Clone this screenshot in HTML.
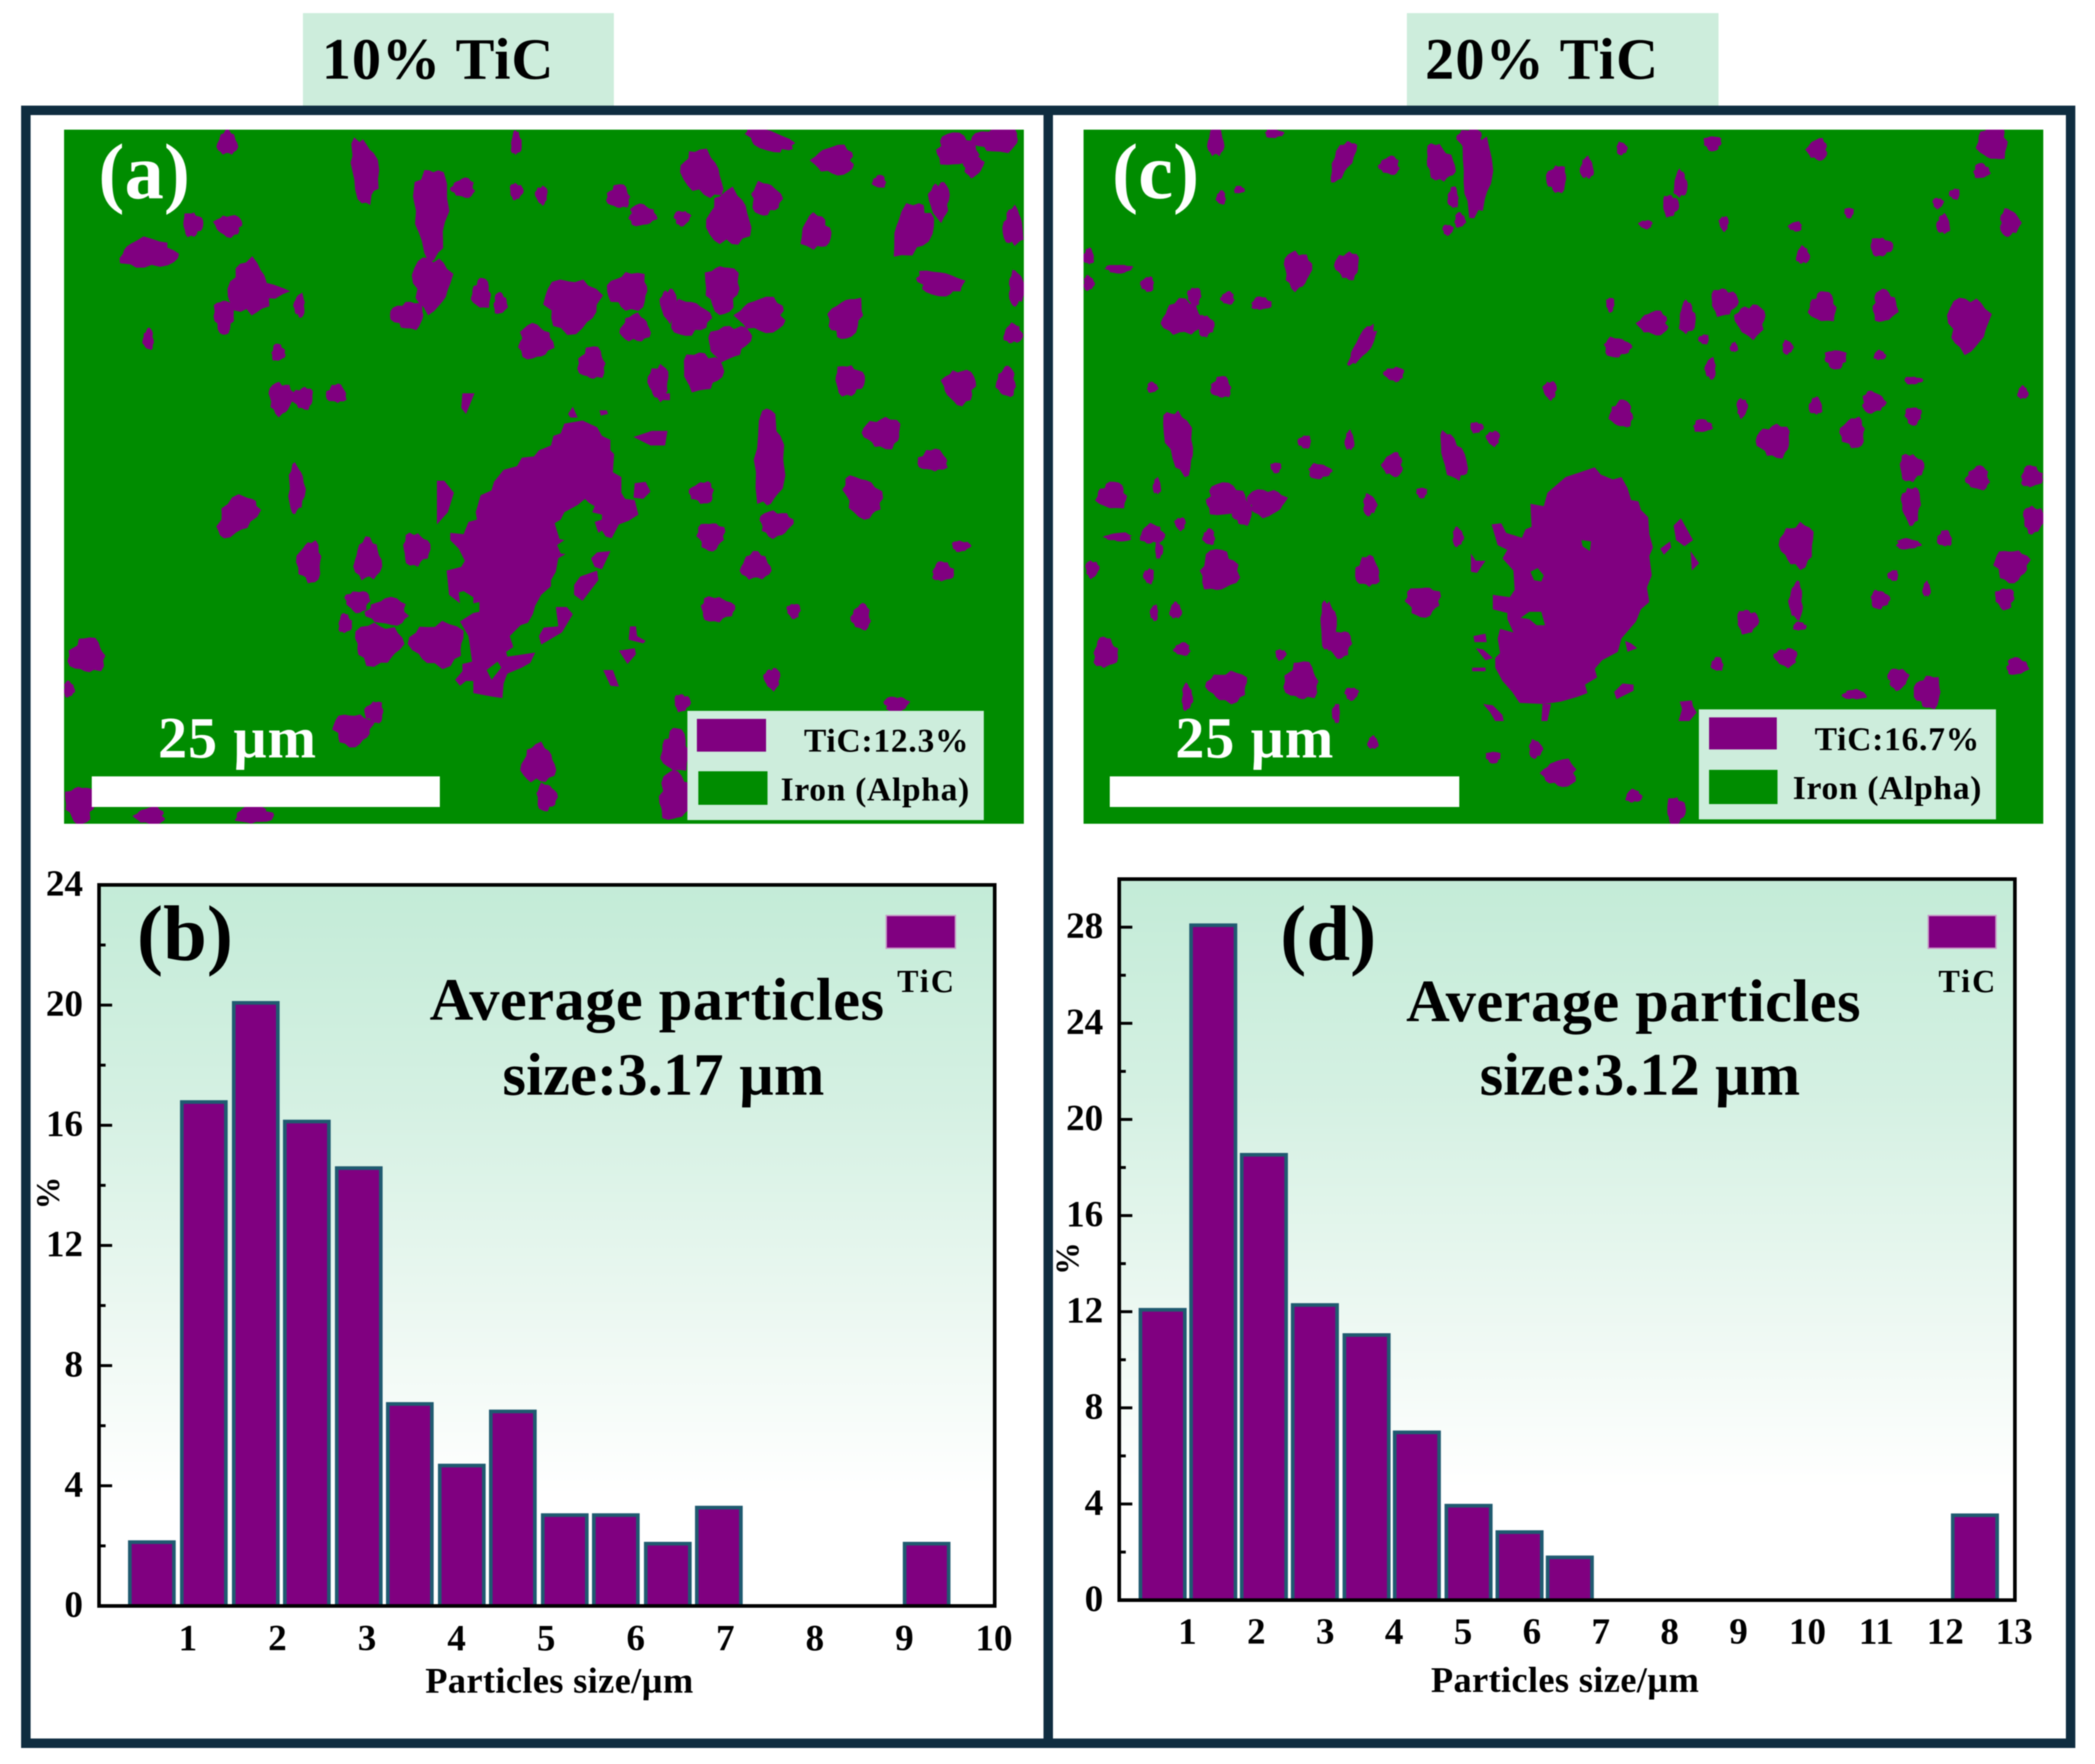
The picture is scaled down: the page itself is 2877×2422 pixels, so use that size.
<!DOCTYPE html>
<html lang="en">
<head>
<meta charset="utf-8">
<title>TiC particle maps and size distributions</title>
<style>
html,body{margin:0;padding:0;background:#fff;width:2877px;height:2422px;overflow:hidden}
svg{display:block;filter:blur(0.7px)}
text{font-family:"Liberation Serif",serif;font-weight:bold;fill:#000}
</style>
</head>
<body>
<svg id="fig" xmlns="http://www.w3.org/2000/svg" width="2877" height="2422" viewBox="0 0 2877 2422">
  <defs>
    <linearGradient id="plotBg" x1="0" y1="0" x2="0" y2="1">
      <stop offset="0" stop-color="#c3ebd7"/>
      <stop offset="0.3" stop-color="#d4f0e2"/>
      <stop offset="0.65" stop-color="#f0f9f4"/>
      <stop offset="0.85" stop-color="#ffffff"/>
      <stop offset="1" stop-color="#ffffff"/>
    </linearGradient>
    <clipPath id="clipA"><rect x="88" y="178" width="1318" height="953"/></clipPath>
    <clipPath id="clipC"><rect x="1488" y="178" width="1318" height="953"/></clipPath>
  </defs>
  <rect x="416" y="18" width="427" height="127" fill="#cdeddc"/>
  <rect x="1932" y="18" width="428" height="127" fill="#cdeddc"/>
  <text x="442" y="108" font-size="80" textLength="318">10% TiC</text>
  <text x="1957" y="108" font-size="80" textLength="320">20% TiC</text>

  <g clip-path="url(#clipA)">
    <rect x="88" y="178" width="1318" height="953" fill="#008c00"/>
    <g id="blobsA" transform="scale(0.9183,0.7337)" fill="#800080"></g>
    <g id="tracedA" transform="translate(600,540) scale(0.33333)" fill="#800080"></g>
  </g>
  <g clip-path="url(#clipC)">
    <rect x="1488" y="178" width="1318" height="953" fill="#008c00"/>
    <g id="blobsC" transform="translate(1440,0) scale(0.9183,0.7337)" fill="#800080"></g>
    <g id="tracedC" transform="translate(2020,620) scale(0.33333)" fill="#800080"></g>
  </g>

  <rect x="35.5" y="151.5" width="2808" height="2242" fill="none" stroke="#0f2d40" stroke-width="13"/>
  <rect x="1433" y="145" width="13" height="2255" fill="#0f2d40"/>

  <text x="135" y="272" font-size="108" style="fill:#fff">(a)</text>
  <text x="1527" y="272" font-size="108" style="fill:#fff">(c)</text>
  <text x="217" y="1040" font-size="80" style="fill:#fff" textLength="217">25 µm</text>
  <rect x="126" y="1066" width="478" height="42" fill="#fff"/>
  <text x="1614" y="1040" font-size="80" style="fill:#fff" textLength="217">25 µm</text>
  <rect x="1524" y="1066" width="480" height="42" fill="#fff"/>

  <g>
    <rect x="944" y="976" width="407" height="150" fill="#cdeddc"/>
    <rect x="957" y="987" width="95" height="45" fill="#800080"/>
    <rect x="959" y="1059" width="95" height="46" fill="#008c00"/>
    <text x="1104" y="1032" font-size="46" textLength="226">TiC:12.3%</text>
    <text x="1072" y="1099" font-size="46" textLength="259">Iron (Alpha)</text>
  </g>
  <g>
    <rect x="2333" y="974" width="408" height="151" fill="#cdeddc"/>
    <rect x="2347" y="985" width="93" height="44" fill="#800080"/>
    <rect x="2347" y="1057" width="94" height="47" fill="#008c00"/>
    <text x="2492" y="1030" font-size="46" textLength="226">TiC:16.7%</text>
    <text x="2462" y="1097" font-size="46" textLength="259">Iron (Alpha)</text>
  </g>

  <g id="chartB"></g>
  <g id="chartD"></g>

  <text x="188" y="1318" font-size="108">(b)</text>
  <text x="1758" y="1318" font-size="108">(d)</text>
  <text x="590" y="1400" font-size="83" textLength="624">Average particles</text>
  <text x="690" y="1503" font-size="83" textLength="442">size:3.17 µm</text>
  <text x="1931" y="1402" font-size="83" textLength="624">Average particles</text>
  <text x="2032" y="1503" font-size="83" textLength="440">size:3.12 µm</text>
</svg>
<script>
// Chart data: panel (b)
const bBinCenters = [0.59,1.17,1.75,2.32,2.90,3.47,4.05,4.62,5.20,5.77,6.35,6.92,9.24];
const bValues = [2.1,16.75,20.05,16.1,14.55,6.7,4.65,6.45,3.0,3.0,2.05,3.25,2.05];
const bXTicks = [1,2,3,4,5,6,7,8,9,10];
const bYTicks = [0,4,8,12,16,20,24];
const bYMinor = [2,6,10,14,18,22];
// Chart data: panel (d)
const dBinCenters = [0.63,1.365,2.10,2.84,3.59,4.32,5.07,5.81,6.54,12.42];
const dValues = [12.05,28.05,18.5,12.25,11.0,6.95,3.9,2.8,1.75,3.5];
const dXTicks = [1,2,3,4,5,6,7,8,9,10,11,12,13];
const dYTicks = [0,4,8,12,16,20,24,28];
const dYMinor = [2,6,10,14,18,22,26];

const NS = 'http://www.w3.org/2000/svg';
function mk(parent, tag, attrs, txt) {
  const e = document.createElementNS(NS, tag);
  for (const k in attrs) e.setAttribute(k, attrs[k]);
  if (txt !== undefined) e.textContent = txt;
  parent.appendChild(e);
  return e;
}

function drawChart(opts) {
  const g = document.getElementById(opts.id);
  const x = v => opts.left + (v - opts.xMin) / (opts.xMax - opts.xMin) * (opts.right - opts.left);
  const y = v => opts.bottom - (v - opts.yMin) / (opts.yMax - opts.yMin) * (opts.bottom - opts.top);

  const bg = mk(g, 'rect', {x: opts.left, y: opts.top, width: opts.right - opts.left, height: opts.bottom - opts.top, fill: 'url(#plotBg)'});
  
  

  opts.centers.forEach((c, i) => {
    const v = opts.values[i];
    const bar = mk(g, 'rect', {
      x: x(c - opts.barWidth / 2) + 0.5, y: y(v) - 1,
      width: x(c + opts.barWidth / 2) - x(c - opts.barWidth / 2) - 1,
      height: y(0) - y(v) + 1,
      fill: '#800080', stroke: '#1f5a70', 'stroke-width': 5
    });
    
    
  });

  const frame = mk(g, 'rect', {x: opts.left, y: opts.top, width: opts.right - opts.left, height: opts.bottom - opts.top, fill: 'none', stroke: '#000', 'stroke-width': 5});
  
  

  opts.yTicks.forEach(t => {
    const line = mk(g, 'line', {x1: opts.left, x2: opts.left + 18, y1: y(t), y2: y(t), stroke: '#000', 'stroke-width': 4});
    
    
    const lab = mk(g, 'text', {x: opts.left - 22, y: y(t) + 15, 'font-size': 51, 'text-anchor': 'end'}, String(t));
    
    
  });
  opts.yMinor.forEach(t => {
    const line = mk(g, 'line', {x1: opts.left, x2: opts.left + 9, y1: y(t), y2: y(t), stroke: '#000', 'stroke-width': 4});
    
    
  });
  opts.xTicks.forEach(t => {
    const lab = mk(g, 'text', {x: x(t) - 1, y: opts.xLabelY, 'font-size': 51, 'text-anchor': 'middle'}, String(t));
    
    
  });

  const xt = mk(g, 'text', {x: opts.xTitleX, y: opts.xTitleY, 'font-size': 50, textLength: 368}, 'Particles size/µm');
  
  

  const yt = mk(g, 'text', {x: opts.yTitleX, y: opts.yTitleY, 'font-size': 45, 'text-anchor': 'middle', transform: 'rotate(-90 ' + opts.yTitleX + ' ' + opts.yTitleY + ')'}, '%');
  
  

  const sw = mk(g, 'rect', {x: opts.swatchX, y: 1257, width: opts.swatchW, height: 45, fill: '#800080', stroke: '#c79ac7', 'stroke-width': 2});
  
  
  const st = mk(g, 'text', {x: opts.swatchTextX, y: 1362, 'font-size': 44, textLength: 78}, 'TiC');
  
  
}

drawChart({id:'chartB', left:136, right:1366, top:1215, bottom:2205, xMin:0, xMax:10, yMin:0, yMax:24,
  centers:bBinCenters, values:bValues, barWidth:0.5, xTicks:bXTicks, yTicks:bYTicks, yMinor:bYMinor,
  xLabelY:2266, xTitleX:584, xTitleY:2324, yTitleX:81, yTitleY:1638,
  swatchX:1217, swatchW:95, swatchTextX:1232});
drawChart({id:'chartD', left:1537, right:2767, top:1207, bottom:2197, xMin:0, xMax:13, yMin:0, yMax:30,
  centers:dBinCenters, values:dValues, barWidth:0.655, xTicks:dXTicks, yTicks:dYTicks, yMinor:dYMinor,
  xLabelY:2257, xTitleX:1965, xTitleY:2323, yTitleX:1481, yTitleY:1728,
  swatchX:2648, swatchW:93, swatchTextX:2662});

// Microstructure maps: particle outlines [cx, cy, rx, ry, rotation]
const mapABlobs = [
[340,268,15,22,0],[545,320,20,60,-5],[645,395,25,85,0],[693,352,17,18,0],[772,268,8,22,0],[772,358,10,15,0],[810,365,9,17,0],
[925,368,17,22,0],[960,403,20,20,0],[1020,408,12,14,0],[1050,325,28,45,-20],[1090,410,32,50,0],[1145,372,22,30,0],[1150,262,38,18,25],
[1248,300,30,27,0],[1220,435,22,32,0],[1365,430,28,50,15],[1405,375,15,35,0],[1315,340,10,12,0],[1430,280,30,30,0],[1455,310,15,20,0],[1490,262,35,22,0],
[1515,425,15,35,0],[1520,540,12,32,0],[1405,530,35,22,15],[1265,595,24,38,15],[1515,625,14,18,0],[1270,712,22,28,0],[1435,723,24,32,0],
[1505,715,14,28,0],[1150,860,22,90,0],[1160,980,24,24,0],[1320,810,28,28,0],[1395,862,22,20,0],[1290,930,26,40,-20],[1063,1003,20,26,0],
[1050,922,18,20,0],[1130,1060,22,25,0],[1072,1140,25,23,0],[1187,1143,10,14,0],[1288,1155,14,24,0],[1410,1070,16,18,0],[1437,1022,14,10,0],
[985,715,15,32,0],[885,680,20,30,0],[800,640,25,32,0],[855,570,40,50,0],[940,545,30,35,0],[950,615,22,25,0],
[1030,595,30,32,0],[1080,540,25,45,0],[1140,590,35,32,0],[1090,640,35,28,-45],[1050,695,30,35,0],[1000,570,12,30,0],[720,550,14,28,0],[748,568,10,20,0],
[645,530,28,50,0],[610,590,25,25,0],[372,540,30,50,0],[385,545,40,18,0],[335,592,15,32,0],[448,572,8,22,0],[222,475,42,27,0],[288,420,15,22,0],
[342,422,20,20,0],[222,635,8,20,0],[416,660,10,16,0],[420,745,18,30,0],[453,745,16,20,0],[503,737,15,17,0],[443,915,12,45,0],
[355,965,25,42,30],[463,1052,18,38,0],[550,1048,20,38,0],[622,1028,20,30,0],[535,1125,18,20,0],[580,1145,30,25,0],[516,1167,10,18,0],
[565,1205,35,38,0],[655,1205,40,40,0],[130,1227,27,32,0],[103,1290,8,15,0],[527,1365,28,30,0],[560,1333,14,20,0],[805,1430,25,35,0],[817,1492,15,25,0],
[120,1505,22,35,0],[225,1527,22,16,0],[380,1525,28,16,0],[1020,1315,12,16,0],[1155,1270,12,20,0],
[1010,1405,20,40,0],[1010,1490,25,45,0],[1340,1318,18,15,0]
];
const tracedAPolys = [
[[525,125],[600,112],[660,140],[680,175],[715,192],[715,235],[730,250],[725,325],[760,345],[760,410],[775,435],[815,440],[830,500],[790,525],[750,540],[720,597],[695,590],[680,565],[665,575],[650,530],[680,520],[680,500],[640,490],[650,465],[625,450],[610,435],[580,460],[525,490],[510,520],[485,535],[505,600],[525,605],[495,625],[510,660],[530,662],[500,680],[490,735],[470,770],[470,795],[430,830],[405,875],[395,910],[375,945],[345,955],[300,1000],[315,1045],[285,1065],[290,1085],[405,1068],[385,1110],[350,1130],[290,1155],[275,1195],[270,1255],[230,1250],[150,1235],[150,1185],[120,1185],[95,1205],[75,1180],[105,1145],[105,1115],[145,1105],[130,1000],[95,940],[150,905],[175,900],[175,860],[150,865],[150,840],[110,815],[90,820],[95,865],[50,830],[40,730],[100,715],[115,690],[90,640],[55,605],[55,575],[110,580],[130,530],[165,520],[160,490],[180,420],[225,400],[235,365],[275,315],[330,300],[350,265],[400,260],[420,235],[470,215],[480,175],[510,165]],
[[635,680],[660,655],[715,650],[680,725],[650,715]],
[[590,755],[660,730],[665,770],[600,855],[565,830],[565,790]],
[[490,880],[535,880],[560,910],[515,985],[430,1035],[420,1000],[440,965],[500,960]],
[[815,370],[860,365],[880,405],[850,435],[810,430]],
[[810,180],[885,155],[950,155],[940,215],[880,215]],
[[105,0],[155,0],[120,85],[100,60]],
[[0,360],[30,360],[70,410],[45,490],[0,540]],
[[790,1015],[795,960],[820,960],[825,1000],[860,1020],[850,1030]],
[[750,1060],[815,1050],[820,1075],[785,1115]],
[[685,1140],[725,1140],[750,1208],[715,1205]],
[[540,85],[560,55],[580,100],[550,100]],
[[670,70],[700,70],[705,85],[675,92]],
[[910,0],[960,0],[960,28],[935,28]]
];
const tracedAHoles = [[[205,1140],[250,1105],[265,1130],[225,1180]]];

const mapCBlobs = [
[250,265,12,28,0],[337,250,14,8,0],[440,300,14,40,20],[510,310,15,17,0],[585,305,20,35,-15],[640,320,22,80,0],[630,260,18,20,0],[605,370,8,20,0],[615,412,8,14,0],[597,430,8,10,0],
[760,335,15,25,0],[805,315,10,20,0],[857,278,8,12,0],[993,268,13,14,0],[1150,280,15,20,0],[945,345,10,25,0],[930,385,12,20,0],[893,420,10,8,0],[1412,265,22,35,0],[1395,320,12,14,0],
[1330,380,8,10,0],[1355,363,8,10,0],[1338,420,10,18,0],[1437,417,15,25,0],[1197,398,7,10,0],[1117,424,10,9,0],[1128,478,10,16,0],[1245,462,17,17,0],[1010,418,7,14,0],[258,370,7,13,0],[285,355,8,7,0],
[372,505,20,35,0],[447,497,18,25,0],[60,480,8,15,0],[60,530,8,14,0],[105,503,20,8,0],[148,532,10,14,0],[200,595,30,32,0],[235,610,12,20,0],[218,555,10,18,0],[268,558,10,12,0],[318,568,15,12,0],
[470,645,12,40,25],[517,700,15,13,0],[258,725,15,20,0],[155,725,8,10,0],[195,825,20,60,-10],[383,827,10,12,0],[450,825,7,18,0],[405,882,17,14,0],[340,875,8,10,0],[515,870,15,22,0],[605,855,17,45,-15],[640,800,10,10,0],[665,820,10,14,0],
[95,928,22,25,0],[265,935,30,30,0],[325,940,28,25,0],[290,960,15,22,0],[162,910,6,15,0],[480,945,10,20,0],[558,922,8,10,0],[105,1005,20,8,0],[155,1000,18,18,0],[165,1030,6,15,0],[197,980,8,12,0],[240,1005,9,15,0],[255,1068,28,38,0],
[65,1065,10,16,0],[150,1078,8,14,0],[477,1070,18,28,0],[612,1005,8,18,0],[560,1125,25,28,0],[158,1147,6,15,0],[190,1143,9,15,0],[418,1170,12,45,0],[435,1205,18,25,0],[200,1215,12,12,0],[85,1222,18,28,0],[347,1225,8,10,0],
[268,1285,30,28,0],[378,1275,25,35,0],[207,1305,8,25,0],[453,1298,10,12,0],[430,1335,6,18,0],[485,1390,8,12,0],
[850,650,20,18,0],[840,570,6,14,0],[905,605,22,22,0],[955,595,12,30,0],[1010,565,20,25,0],[1050,600,22,30,0],[1158,575,20,28,0],[1250,573,18,30,0],[1375,605,30,50,0],[980,635,8,9,0],[1025,650,6,9,0],[1105,650,8,13,0],[1177,672,16,18,0],[990,690,8,20,0],
[1243,665,9,9,0],[1293,712,14,7,0],[750,730,10,17,0],[857,775,17,25,0],[978,797,14,12,0],[1037,763,8,18,0],[1085,825,25,30,0],[1147,760,10,16,0],[1233,753,17,20,0],[1293,778,12,17,0],[1203,810,18,28,0],[1457,735,8,12,0],
[1290,875,18,25,0],[1290,945,14,35,0],[1390,895,17,22,0],[1470,892,16,20,0],[1473,972,16,25,0],[1120,1020,25,40,0],[1340,1008,11,15,0],[1285,1018,18,10,0],[1440,1058,25,30,0],[1263,1077,8,10,0],[1313,1103,6,14,0],
[1243,1122,14,17,0],[1430,1120,14,20,0],[1118,1125,10,35,0],[1123,1172,10,8,0],[1045,1163,16,22,0],[1103,1230,17,17,0],[1000,1243,9,13,0],[1448,1247,16,16,0],[1270,1270,15,20,0],[1315,1295,20,30,0],[1205,1300,18,9,0],
[728,1402,10,17,0],[665,1417,11,11,0],[765,1447,25,25,0],[875,1490,12,12,0],[938,1517,14,25,0]
];
const tracedCPolys = [
[[510,65],[535,95],[585,115],[620,105],[645,150],[660,200],[690,205],[700,240],[730,270],[735,340],[750,395],[735,430],[745,510],[725,560],[735,620],[700,650],[680,700],[620,770],[605,825],[540,860],[510,895],[520,930],[470,960],[480,995],[440,1010],[370,1030],[300,1040],[200,1035],[170,990],[130,945],[100,890],[100,850],[120,830],[110,770],[120,730],[175,745],[150,690],[150,665],[90,650],[90,590],[160,600],[180,570],[175,490],[130,440],[150,405],[110,385],[85,300],[125,295],[145,335],[210,355],[225,320],[250,310],[245,215],[300,225],[315,170],[390,105],[450,85]],
[[835,305],[865,275],[890,320],[915,365],[880,390],[845,365]],
[[780,400],[820,370],[825,395],[795,425]],
[[905,410],[940,460],[910,490]],
[[0,420],[20,450],[60,450],[25,500],[0,495]],
[[635,780],[660,790],[685,810],[645,825]],
[[590,990],[625,955],[670,960],[670,985],[600,1020]],
[[860,1030],[910,1025],[915,1050],[930,1075],[900,1110],[855,1110],[870,1060]],
[[50,1040],[90,1045],[130,1085],[135,1110],[100,1110],[80,1075]],
[[10,760],[60,750],[65,785],[15,785]],
[[20,810],[50,815],[90,850],[60,860]],
[[5,890],[60,890],[60,905],[5,905]],
[[295,1040],[330,1040],[315,1110],[290,1110]]
];
const tracedCHoles = [
[[455,365],[495,370],[490,410],[460,390]],
[[245,495],[275,480],[300,510],[290,535],[260,530]],
[[205,685],[240,660],[290,660],[305,715],[270,715],[240,690]]
];

function blobPath(b, seed) {
  const N = 22, r = b[4] * Math.PI / 180, pts = [];
  for (let k = 0; k < N; k++) {
    const a = k / N * 2 * Math.PI;
    const f = 1 + 0.12 * Math.sin(3 * a + seed) + 0.08 * Math.sin(7 * a + seed * 2.3) + 0.05 * Math.sin(13 * a + seed * 0.7);
    const ex = b[2] * f * Math.cos(a), ey = b[3] * f * Math.sin(a);
    pts.push((b[0] + ex * Math.cos(r) - ey * Math.sin(r)).toFixed(1) + ',' + (b[1] + ex * Math.sin(r) + ey * Math.cos(r)).toFixed(1));
  }
  return 'M' + pts.join('L') + 'Z';
}
function drawBlobs(id, list) {
  const g = document.getElementById(id);
  list.forEach((b, i) => {
    const p = mk(g, 'path', {d: blobPath(b, i * 1.7)});
    
    
  });
}
function drawPolys(id, list, fill) {
  const g = document.getElementById(id);
  list.forEach(pts => {
    const attrs = {points: pts.map(q => q.join(',')).join(' ')};
    if (fill) attrs.fill = fill;
    const p = mk(g, 'polygon', attrs);
    
    
  });
}
drawBlobs('blobsA', mapABlobs);
drawPolys('tracedA', tracedAPolys);
drawPolys('tracedA', tracedAHoles, '#008c00');
drawBlobs('blobsC', mapCBlobs);
drawPolys('tracedC', tracedCPolys);
drawPolys('tracedC', tracedCHoles, '#008c00');
</script>
</body>
</html>
